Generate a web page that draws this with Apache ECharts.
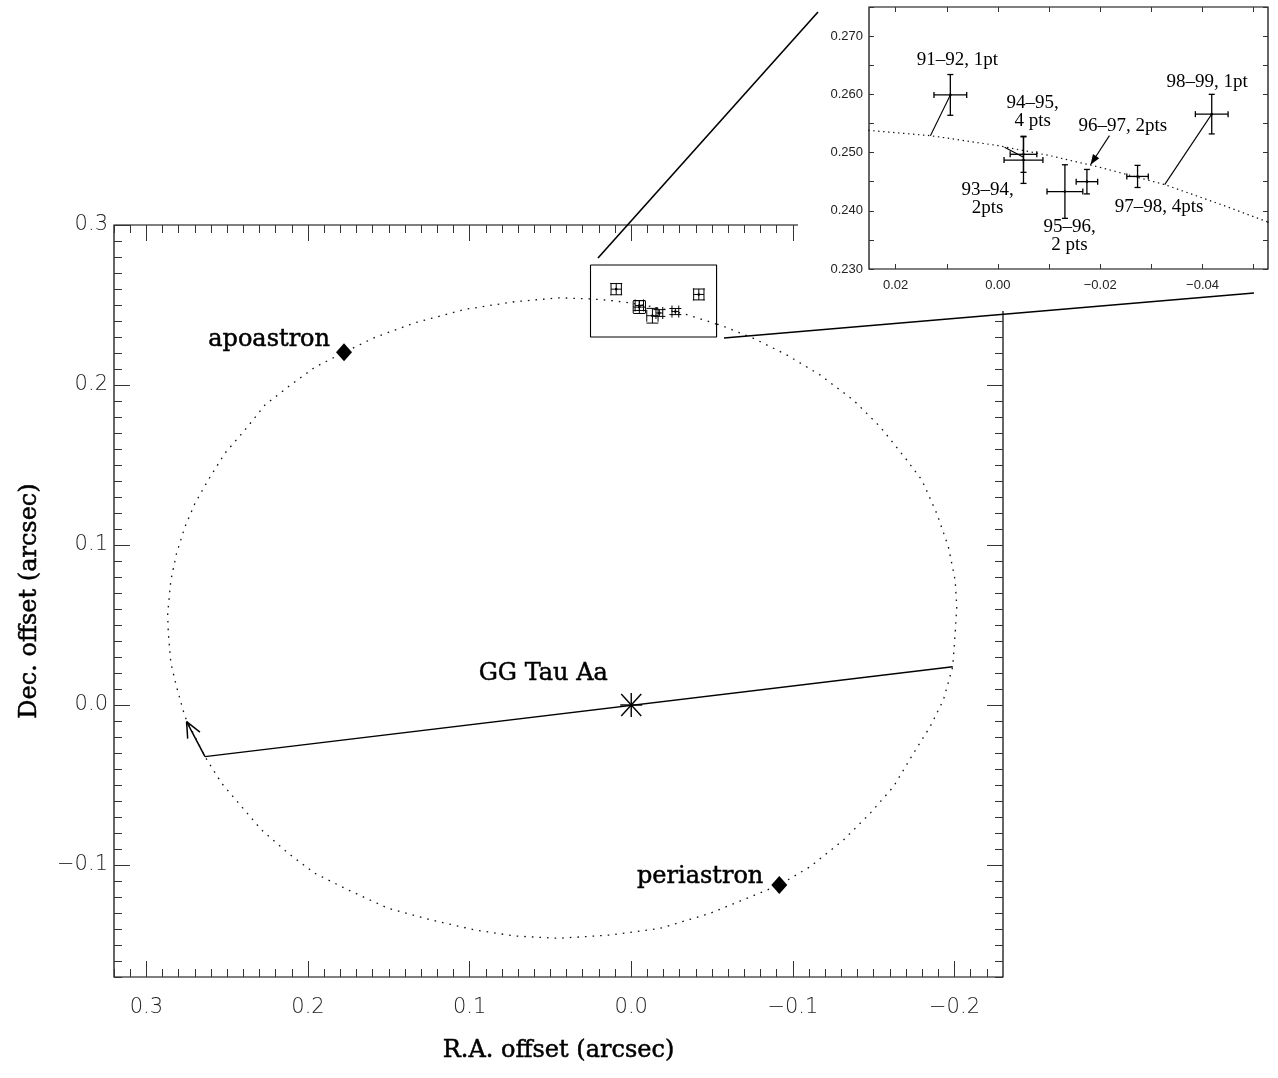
<!DOCTYPE html>
<html><head><meta charset="utf-8">
<script src="https://cdn.jsdelivr.net/npm/echarts@6/dist/echarts.min.js"></script>
<style>html,body{margin:0;padding:0;background:#fff}#c{width:1278px;height:1078px}</style>
</head><body><div id="c"></div>
<script>
// ---------------- data ----------------
const ORBIT_RA = [-0.0527,-0.0432,-0.0326,-0.0198,-0.0100,0.0000,0.0132,0.0251,0.0441,0.0719,0.1028,0.1338,0.1585,0.1777,0.1957,0.2122,0.2266,0.2390,0.2514,0.2617,0.2699,0.2761,0.2813,0.2848,0.2868,0.2864,0.2848,0.2813,0.2761,0.2637,0.2534,0.2410,0.2287,0.2122,0.1957,0.1751,0.1503,0.1235,0.0967,0.0719,0.0451,0.0131,-0.0178,-0.0488,-0.0715,-0.0916,-0.1106,-0.1313,-0.1478,-0.1622,-0.1746,-0.1849,-0.1931,-0.1989,-0.2004,-0.2014,-0.2004,-0.1962,-0.1890,-0.1798,-0.1705,-0.1540,-0.1374,-0.1168,-0.0962,-0.0756,-0.0550,-0.0527];
const ORBIT_DEC = [0.2381,0.2412,0.2445,0.2475,0.2495,0.2512,0.2529,0.2538,0.2545,0.2521,0.2473,0.2389,0.2298,0.2204,0.2111,0.1989,0.1875,0.1719,0.1573,0.1406,0.1261,0.1114,0.0948,0.0781,0.0573,0.0448,0.0261,0.0114,-0.0073,-0.0323,-0.0489,-0.0636,-0.0781,-0.0927,-0.1052,-0.1156,-0.1271,-0.1344,-0.1406,-0.1444,-0.1458,-0.1438,-0.1396,-0.1302,-0.1208,-0.1125,-0.1011,-0.0844,-0.0677,-0.0511,-0.0302,-0.0136,0.0031,0.0239,0.0448,0.0614,0.0781,0.0989,0.1198,0.1406,0.1531,0.1739,0.1906,0.2063,0.2188,0.2292,0.2375,0.2381];

const EPOCHS  = ['91–92','93–94','94–95','95–96','96–97','97–98','98–99'];
const POS_RA  = [0.0093,-0.0050,-0.0050,-0.0131,-0.0174,-0.0273,-0.0418];
const POS_DEC = [0.2599,0.2487,0.2497,0.2433,0.2450,0.2459,0.2566];
const ERR_RA  = [0.0032,0.0038,0.0026,0.0035,0.0021,0.0021,0.0032];
const ERR_DEC = [0.0035,0.0040,0.0031,0.0046,0.0021,0.0019,0.0034];

const APSIS_NAMES = ['apoastron','periastron'];
const APSIS_RA  = [0.1777,-0.0916];
const APSIS_DEC = [0.2204,-0.1125];

const STAR_NAME = 'GG Tau Aa';
const STAR_RA = [0.0];
const STAR_DEC = [0.0];

const NODE_RA  = [0.2637,-0.1989];
const NODE_DEC = [-0.0323,0.0239];
const DIR_RA   = [0.2637,0.2751];
const DIR_DEC  = [-0.0323,-0.0104];

const INSET_TEXT = ['91–92, 1pt','94–95,\n4 pts','96–97, 2pts','98–99, 1pt','93–94,\n2pts','95–96,\n2 pts','97–98, 4pts'];
const INSET_TEXT_RA  = [0.0079,-0.0068,-0.0244,-0.0409,0.0020,-0.0140,-0.0315];
const INSET_TEXT_DEC = [0.2659,0.2570,0.2546,0.2622,0.2421,0.2357,0.2406];

const LEADER_FROM_RA  = [0.0093,-0.0013,-0.0418];
const LEADER_FROM_DEC = [0.2599,0.2509,0.2566];
const LEADER_TO_RA    = [0.0132,-0.0050,-0.0326];
const LEADER_TO_DEC   = [0.2529,0.2492,0.2445];
const POINTER_RA  = [-0.0218,-0.0181];
const POINTER_DEC = [0.2529,0.2479];

const MAIN_X_RANGE = [-0.23, 0.32];
const MAIN_Y_RANGE = [-0.17, 0.30];
const INSET_X_RANGE = [-0.0528, 0.0252];
const INSET_Y_RANGE = [0.230, 0.275];

const MAIN_X_TICKS = [0.3,0.2,0.1,0.0,-0.1,-0.2];
const MAIN_Y_TICKS = [-0.1,0.0,0.1,0.2,0.3];
const INSET_X_LABELS = [0.02,0.00,-0.02,-0.04];
const INSET_Y_LABELS = [0.230,0.240,0.250,0.260,0.270];

const X_TITLE = 'R.A. offset (arcsec)';
const Y_TITLE = 'Dec. offset (arcsec)';

// ---------------- helpers ----------------
function steps(a, b, s) { const out = []; const n = Math.round((b - a) / s); for (let i = 0; i <= n; i++) out.push(+(a + i * s).toFixed(4)); return out; }
const MAIN_X_MINOR = steps(-0.22, 0.32, 0.01);
const MAIN_Y_MINOR = steps(-0.17, 0.30, 0.01);
const INSET_X_TICKS = steps(-0.05, 0.02, 0.01);
const INSET_Y_TICKS = steps(0.230, 0.275, 0.005);

const minus = s => s.replace('-', '\u2212');
const mainFmt = v => minus((+v).toFixed(1));
const insetXFmt = v => minus((+v).toFixed(2));
const insetYFmt = v => minus((+v).toFixed(3));

const TICK_COLOR = '#333';
function axis(o) {
  const a = {
    type: 'value', gridIndex: o.grid, position: o.pos, min: o.range[0], max: o.range[1],
    inverse: !!o.inverse, z: o.z || 0,
    axisLine: { show: false, onZero: false },
    splitLine: { show: false },
    axisTick: { show: true, inside: true, length: o.len, customValues: o.ticks, lineStyle: { color: TICK_COLOR, width: 1 } },
    axisLabel: o.labels ? Object.assign({ show: true, customValues: o.labels, formatter: o.fmt }, o.labelStyle) : { show: false }
  };
  if (o.name) Object.assign(a, { name: o.name, nameLocation: 'middle', nameGap: o.nameGap,
    nameTextStyle: { fontFamily: 'DejaVu Serif', fontSize: 24, color: '#000', textBorderColor: '#000', textBorderWidth: 0.5 } });
  return a;
}
const mainLabel = { fontFamily: 'DejaVu Sans', fontWeight: 200, fontSize: 21, color: '#222' };
const insetLabel = { fontFamily: 'Liberation Sans', fontSize: 13, color: '#222' };

const xAxes = [
  axis({ grid: 0, pos: 'bottom', range: MAIN_X_RANGE, inverse: true, len: 16, ticks: MAIN_X_TICKS, labels: MAIN_X_TICKS, fmt: mainFmt, labelStyle: Object.assign({ margin: 20 }, mainLabel), name: X_TITLE, nameGap: 62 }),
  axis({ grid: 0, pos: 'bottom', range: MAIN_X_RANGE, inverse: true, len: 8, ticks: MAIN_X_MINOR }),
  axis({ grid: 0, pos: 'top', range: MAIN_X_RANGE, inverse: true, len: 16, ticks: MAIN_X_TICKS }),
  axis({ grid: 0, pos: 'top', range: MAIN_X_RANGE, inverse: true, len: 8, ticks: MAIN_X_MINOR }),
  axis({ grid: 1, pos: 'bottom', range: INSET_X_RANGE, inverse: true, len: 5, ticks: INSET_X_TICKS, labels: INSET_X_LABELS, fmt: insetXFmt, labelStyle: Object.assign({ margin: 10 }, insetLabel), z: 150 }),
  axis({ grid: 1, pos: 'top', range: INSET_X_RANGE, inverse: true, len: 5, ticks: INSET_X_TICKS, z: 150 })
];
const yAxes = [
  axis({ grid: 0, pos: 'left', range: MAIN_Y_RANGE, len: 16, ticks: MAIN_Y_TICKS, labels: MAIN_Y_TICKS, fmt: mainFmt, labelStyle: Object.assign({ margin: 6 }, mainLabel), name: Y_TITLE, nameGap: 72 }),
  axis({ grid: 0, pos: 'left', range: MAIN_Y_RANGE, len: 8, ticks: MAIN_Y_MINOR }),
  axis({ grid: 0, pos: 'right', range: MAIN_Y_RANGE, len: 16, ticks: MAIN_Y_TICKS }),
  axis({ grid: 0, pos: 'right', range: MAIN_Y_RANGE, len: 8, ticks: MAIN_Y_MINOR }),
  axis({ grid: 1, pos: 'left', range: INSET_Y_RANGE, len: 5, ticks: INSET_Y_TICKS, labels: INSET_Y_LABELS, fmt: insetYFmt, labelStyle: Object.assign({ margin: 6 }, insetLabel), z: 150 }),
  axis({ grid: 1, pos: 'right', range: INSET_Y_RANGE, len: 5, ticks: INSET_Y_TICKS, z: 150 })
];

const orbit = ORBIT_RA.map((x, i) => [x, ORBIT_DEC[i]]);
const pts = POS_RA.map((x, i) => [x, POS_DEC[i], ERR_RA[i], ERR_DEC[i], EPOCHS[i]]);
const leaders = LEADER_FROM_RA.map((x, i) => [x, LEADER_FROM_DEC[i], LEADER_TO_RA[i], LEADER_TO_DEC[i]]);

function errRender(cap, lw) {
  return function (params, api) {
    const x = api.value(0), y = api.value(1), ex = api.value(2), ey = api.value(3);
    const c = api.coord([x, y]);
    const l = api.coord([x + ex, y]), r = api.coord([x - ex, y]);
    const t = api.coord([x, y + ey]), b = api.coord([x, y - ey]);
    const st = { stroke: '#000', lineWidth: lw, fill: null };
    const ln = (x1, y1, x2, y2) => ({ type: 'line', shape: { x1, y1, x2, y2 }, style: st });
    return { type: 'group', children: [
      ln(l[0], l[1], r[0], r[1]), ln(t[0], t[1], b[0], b[1]),
      ln(l[0], l[1] - cap, l[0], l[1] + cap), ln(r[0], r[1] - cap, r[0], r[1] + cap),
      ln(t[0] - cap, t[1], t[0] + cap, t[1]), ln(b[0] - cap, b[1], b[0] + cap, b[1]),
      { type: 'circle', shape: { cx: c[0], cy: c[1], r: 1.3 }, style: { fill: '#000' } }
    ] };
  };
}
function starRender(params, api) {
  const c = api.coord([api.value(0), api.value(1)]);
  const st = { stroke: '#000', lineWidth: 1.4 };
  const ln = (dx, dy) => ({ type: 'line', shape: { x1: c[0] - dx, y1: c[1] - dy, x2: c[0] + dx, y2: c[1] + dy }, style: st });
  return { type: 'group', children: [ln(0, 12), ln(11, 0), ln(10, 11), ln(10, -11)] };
}
function segRender(lw) {
  return function (params, api) {
    const a = api.coord([api.value(0), api.value(1)]), b = api.coord([api.value(2), api.value(3)]);
    return { type: 'line', shape: { x1: a[0], y1: a[1], x2: b[0], y2: b[1] }, style: { stroke: '#000', lineWidth: lw } };
  };
}
// arrow from (v0,v1) to tip (v2,v3); open=true -> two strokes, else filled triangle
function arrowRender(open, len, ang, lw) {
  return function (params, api) {
    const a = api.coord([api.value(0), api.value(1)]), b = api.coord([api.value(2), api.value(3)]);
    const dx = a[0] - b[0], dy = a[1] - b[1], d = Math.hypot(dx, dy), ux = dx / d, uy = dy / d;
    const rot = (t) => [b[0] + len * (ux * Math.cos(t) - uy * Math.sin(t)), b[1] + len * (ux * Math.sin(t) + uy * Math.cos(t))];
    const p1 = rot(ang), p2 = rot(-ang);
    const st = { stroke: '#000', lineWidth: lw };
    const kids = [{ type: 'line', shape: { x1: a[0], y1: a[1], x2: b[0], y2: b[1] }, style: st }];
    if (open) {
      kids.push({ type: 'line', shape: { x1: b[0], y1: b[1], x2: p1[0], y2: p1[1] }, style: st });
      kids.push({ type: 'line', shape: { x1: b[0], y1: b[1], x2: p2[0], y2: p2[1] }, style: st });
    } else {
      kids.push({ type: 'polygon', shape: { points: [b, p1, p2] }, style: { fill: '#000' } });
    }
    return { type: 'group', children: kids };
  };
}

const serifLabel = { fontFamily: 'DejaVu Serif', fontSize: 24, color: '#000', textBorderColor: '#000', textBorderWidth: 0.5 };

const option = {
  animation: false,
  backgroundColor: '#fff',
  grid: [
    { left: 114, top: 225, width: 889, height: 752, show: true, borderColor: '#000', borderWidth: 1.2, backgroundColor: 'transparent', containLabel: false },
    { left: 869, top: 7, width: 399, height: 262, show: true, borderColor: '#000', borderWidth: 1.2, backgroundColor: '#fff', containLabel: false, z: 150 }
  ],
  xAxis: xAxes,
  yAxis: yAxes,
  graphic: [
    { type: 'rect', z: 100, shape: { x: 798, y: 0, width: 480, height: 311 }, style: { fill: '#fff' } },
    { type: 'line', z: 300, shape: { x1: 598, y1: 258, x2: 818, y2: 12 }, style: { stroke: '#000', lineWidth: 1.6 } },
    { type: 'line', z: 300, shape: { x1: 724, y1: 338, x2: 1254, y2: 293 }, style: { stroke: '#000', lineWidth: 1.6 } }
  ],
  series: [
    { type: 'line', name: 'orbit', xAxisIndex: 0, yAxisIndex: 0, data: orbit, showSymbol: false, silent: true,
      lineStyle: { color: '#111', width: 1.3, type: [1.6, 6] } },
    { type: 'line', name: 'orbit-inset', xAxisIndex: 4, yAxisIndex: 4, data: orbit, showSymbol: false, silent: true, z: 160,
      lineStyle: { color: '#111', width: 1.2, type: [1.4, 3.6] } },
    { type: 'line', name: 'nodes', xAxisIndex: 0, yAxisIndex: 0, data: NODE_RA.map((x, i) => [x, NODE_DEC[i]]), showSymbol: false, silent: true,
      lineStyle: { color: '#000', width: 1.3 } },
    { type: 'custom', name: 'direction', xAxisIndex: 0, yAxisIndex: 0, silent: true,
      data: [[DIR_RA[0], DIR_DEC[0], DIR_RA[1], DIR_DEC[1]]], renderItem: arrowRender(true, 17, 0.42, 1.5) },
    { type: 'line', name: 'zoom-box', xAxisIndex: 0, yAxisIndex: 0, showSymbol: false, silent: true,
      data: [[INSET_X_RANGE[1], INSET_Y_RANGE[1]], [INSET_X_RANGE[0], INSET_Y_RANGE[1]], [INSET_X_RANGE[0], INSET_Y_RANGE[0]], [INSET_X_RANGE[1], INSET_Y_RANGE[0]], [INSET_X_RANGE[1], INSET_Y_RANGE[1]]],
      lineStyle: { color: '#000', width: 1.1 } },
    { type: 'custom', name: 'pos-main', xAxisIndex: 0, yAxisIndex: 0, data: pts, renderItem: errRender(6, 1), silent: true },
    { type: 'custom', name: 'pos-inset', xAxisIndex: 4, yAxisIndex: 4, data: pts, renderItem: errRender(3, 1.3), silent: true, z: 170 },
    { type: 'scatter', name: 'apsides', xAxisIndex: 0, yAxisIndex: 0, symbol: 'diamond', symbolSize: [16, 18], silent: true,
      itemStyle: { color: '#000', opacity: 1 },
      data: APSIS_NAMES.map((n, i) => ({ name: n, value: [APSIS_RA[i], APSIS_DEC[i]],
        label: Object.assign({ show: true, position: 'left', distance: i === 0 ? 6 : 8, offset: [0, i === 0 ? -13 : -8], formatter: '{b}' }, serifLabel) })) },
    { type: 'custom', name: 'star', xAxisIndex: 0, yAxisIndex: 0, data: STAR_RA.map((x, i) => [x, STAR_DEC[i]]), renderItem: starRender, silent: true },
    { type: 'scatter', name: 'star-label', xAxisIndex: 0, yAxisIndex: 0, symbolSize: 1, silent: true, itemStyle: { color: 'rgba(0,0,0,0)', opacity: 1 },
      data: [{ name: STAR_NAME, value: [STAR_RA[0], STAR_DEC[0]],
        label: Object.assign({ show: true, position: 'inside', offset: [-88, -31], formatter: '{b}' }, serifLabel) }] },
    { type: 'scatter', name: 'inset-labels', xAxisIndex: 4, yAxisIndex: 4, symbolSize: 1, silent: true, z: 180, itemStyle: { color: 'rgba(0,0,0,0)', opacity: 1 },
      data: INSET_TEXT.map((t, i) => ({ name: t, value: [INSET_TEXT_RA[i], INSET_TEXT_DEC[i]] })),
      label: { show: true, position: 'inside', formatter: '{b}', fontFamily: 'Liberation Serif', fontSize: 19, lineHeight: 18, align: 'center', color: '#000' } },
    { type: 'custom', name: 'inset-leaders', xAxisIndex: 4, yAxisIndex: 4, data: leaders, renderItem: segRender(1.1), silent: true, z: 175 },
    { type: 'custom', name: 'inset-pointer', xAxisIndex: 4, yAxisIndex: 4, silent: true, z: 175,
      data: [[POINTER_RA[0], POINTER_DEC[0], POINTER_RA[1], POINTER_DEC[1]]], renderItem: arrowRender(false, 11, 0.35, 1.1) }
  ]
};

const chart = echarts.init(document.getElementById('c'), null, { renderer: 'canvas' });
chart.setOption(option);
</script></body></html>
